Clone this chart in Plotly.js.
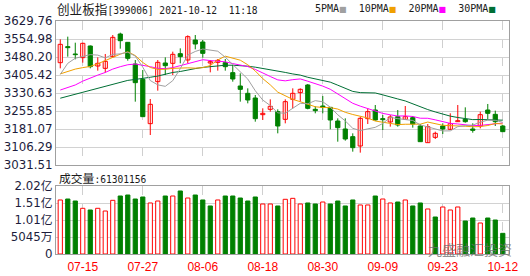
<!DOCTYPE html>
<html>
<head>
<meta charset="utf-8">
<script src="https://cdn.plot.ly/plotly-3.0.1.min.js"></script>
<style>html,body{margin:0;padding:0;background:#fff;}#chart{width:530px;height:276px;}</style>
</head>
<body>
<div id="chart"></div>
<script>
// ---- data ----
const dates = ['07-12','07-13','07-14','07-15','07-16','07-19','07-20','07-21','07-22','07-23',
  '07-26','07-27','07-28','07-29','07-30','08-02','08-03','08-04','08-05','08-06',
  '08-09','08-10','08-11','08-12','08-13','08-16','08-17','08-18','08-19','08-20',
  '08-23','08-24','08-25','08-26','08-27','08-30','08-31','09-01','09-02','09-03',
  '09-06','09-07','09-08','09-09','09-10','09-13','09-14','09-15','09-16','09-17',
  '09-22','09-23','09-24','09-27','09-28','09-29','09-30','10-08','10-11','10-12'];
const tickDates = ['07-15','07-27','08-06','08-18','08-30','09-09','09-23','10-12'];

const open = [3456.6,3523.1,3492.7,3477.4,3525.9,3442.8,3433.1,3481.6,3575.7,3541.1,
  3451.1,3387.4,3203.2,3377.7,3455.3,3453.9,3494.0,3467.7,3550.8,3542.5,
  3455.3,3458.0,3456.6,3415.1,3359.7,3329.3,3309.9,3240.6,3262.8,3253.1,
  3221.2,3304.3,3332.1,3363.9,3262.8,3276.6,3271.1,3214.3,3181.1,3149.2,
  3110.4,3224.0,3260.0,3224.0,3210.2,3232.3,3221.2,3228.2,3193.5,3124.3,
  3146.4,3193.5,3179.7,3211.5,3221.2,3181.1,3193.5,3260.0,3242.0,3193.5];
const high = [3553.6,3564.7,3539.7,3539.7,3528.0,3478.8,3492.7,3571.6,3581.3,3541.1,
  3467.7,3426.2,3305.7,3467.7,3478.8,3502.4,3516.2,3570.2,3571.6,3550.8,
  3467.7,3471.9,3471.9,3447.0,3412.3,3350.0,3322.3,3267.0,3304.3,3262.8,
  3304.4,3350.0,3350.0,3368.0,3275.3,3318.2,3271.1,3225.4,3225.4,3163.1,
  3232.3,3267.0,3280.8,3239.3,3239.3,3260.0,3276.6,3235.1,3201.8,3201.8,
  3170.0,3204.6,3246.2,3280.8,3271.1,3204.6,3253.1,3285.0,3257.3,3197.7];
const low = [3433.1,3481.6,3470.5,3456.6,3433.1,3423.4,3415.1,3478.8,3514.8,3465.0,
  3294.6,3232.3,3156.1,3340.3,3405.4,3405.4,3453.9,3453.9,3512.0,3477.4,
  3416.5,3423.4,3423.4,3377.7,3294.6,3287.7,3211.5,3218.5,3253.1,3163.1,
  3204.6,3267.0,3294.6,3262.8,3246.2,3246.2,3179.7,3128.4,3132.6,3086.9,
  3082.8,3201.8,3215.7,3176.9,3190.8,3190.8,3218.5,3186.6,3128.4,3124.3,
  3139.5,3160.3,3176.9,3211.5,3207.4,3165.8,3183.8,3222.6,3193.5,3170.0];
const close = [3532.8,3519.0,3489.9,3537.0,3440.0,3453.9,3462.2,3561.9,3548.0,3474.7,
  3373.6,3232.3,3283.6,3458.0,3444.2,3491.3,3481.6,3564.7,3534.2,3495.4,
  3460.8,3466.3,3440.0,3388.8,3345.9,3301.6,3224.0,3246.2,3275.3,3193.5,
  3294.6,3329.3,3345.9,3267.0,3257.3,3271.1,3218.5,3186.6,3139.5,3103.5,
  3225.4,3253.1,3218.5,3219.9,3231.0,3197.7,3232.3,3201.8,3128.4,3190.8,
  3163.1,3181.1,3203.2,3215.7,3211.5,3175.5,3240.6,3246.2,3211.5,3170.0];

const ma5 = [3408,3454,3475,3481,3490,3488.0,3476.6,3491.0,3493.2,3500.1,
  3484.1,3438.1,3382.4,3364.4,3358.3,3381.9,3431.7,3488.0,3503.2,3513.4,
  3507.3,3504.3,3479.3,3450.3,3420.4,3388.5,3340.1,3301.3,3278.6,3248.1,
  3246.7,3267.8,3287.7,3286.1,3298.8,3294.1,3272.0,3240.1,3214.6,3183.8,
  3174.7,3181.6,3188.0,3204.1,3229.6,3224.0,3219.9,3216.5,3198.2,3190.2,
  3183.3,3173.0,3173.3,3190.8,3194.9,3197.4,3209.3,3217.9,3217.1,3208.8];
const ma10 = [3410,3420,3430,3436,3441,3452,3466,3480,3492,3501.9,
  3486.1,3457.4,3436.7,3428.8,3429.2,3433.0,3434.9,3435.2,3433.8,3435.9,
  3444.6,3468.0,3483.7,3476.8,3466.9,3447.9,3422.2,3390.3,3364.5,3334.3,
  3317.6,3304.0,3294.5,3282.4,3273.5,3270.4,3269.9,3263.9,3250.4,3241.3,
  3234.4,3226.8,3214.1,3209.4,3206.7,3199.4,3200.8,3202.3,3201.2,3209.9,
  3203.7,3196.5,3194.9,3194.5,3192.6,3190.4,3191.2,3195.6,3204.0,3201.9];
const ma20 = [3343,3353,3364,3380,3394,3405,3416,3430,3440,3448,
  3451,3447,3440,3433,3432,3436,3444,3454,3462,3468.9,
  3465.4,3462.7,3460.2,3452.8,3448.1,3440.5,3428.6,3412.8,3399.2,3385.1,
  3381.1,3386.0,3389.1,3379.6,3370.2,3359.2,3346.1,3327.1,3307.5,3287.8,
  3276.0,3265.4,3254.3,3245.9,3240.1,3234.9,3235.4,3233.1,3225.8,3225.6,
  3219.1,3211.7,3204.5,3202.0,3199.7,3194.9,3196.0,3199.0,3202.6,3205.9];
const ma30 = [3309,3317,3326,3334,3343,3351,3360,3368,3376,3383,
  3387,3390,3396,3401,3409,3416,3420,3427,3432,3437,
  3440,3444,3446,3446,3445,3442,3438,3433,3428,3424.0,
  3416.1,3409.8,3405.0,3396.0,3389.9,3383.8,3375.7,3363.1,3349.6,3337.2,
  3332.2,3332.9,3330.8,3322.9,3315.7,3305.9,3297.6,3285.5,3272.0,3261.8,
  3251.9,3242.4,3234.5,3228.8,3224.3,3220.1,3220.6,3220.6,3218.5,3217.7];

// volume in 万 (10^4 shares)
const volume = [16030,16320,15730,13560,13060,13560,12760,15930,17210,17510,
  16320,16920,15140,15730,17210,17210,18700,16620,17510,16030,
  14250,16030,17210,17210,16620,15730,16920,14840,14840,14250,
  16230,16520,14840,15140,14840,15430,14840,15730,14250,16030,
  14550,14550,17210,16320,15140,15430,16030,14250,15140,13360,
  10980,13950,13060,13950,9790,10680,9200,10680,10090,6130];
// volume bar colour: 1 = red (up), -1 = green (down)
const volDir = [1,-1,-1,1,-1,1,1,1,-1,-1,
  -1,-1,1,1,-1,1,-1,1,-1,-1,
  -1,1,-1,-1,-1,-1,-1,1,1,-1,
  1,1,1,-1,-1,1,-1,-1,-1,-1,
  1,1,-1,1,1,-1,1,-1,-1,1,
  -1,1,1,1,-1,-1,1,-1,-1,-1];

const priceTicks = [3031.51,3106.29,3181.07,3255.85,3330.63,3405.42,3480.20,3554.98,3629.76];
const priceTickText = ['3031.51','3106.29','3181.07','3255.85','3330.63','3405.42','3480.20','3554.98','3629.76'];
const volTicks = [0,5045,10090,15135,20180];
const volTickText = ['0','5045万','1.01亿','1.51亿','2.02亿'];
const lastVolume = '61301156';
const titleName = '创业板指';
const titleRest = '[399006] 2021-10-12  11:18';
const volLabel = '成交量';
const maNames = ['5PMA','10PMA','20PMA','30PMA'];

// ---- styling ----
const RED = '#ff0000', GREEN = '#008000';
const maColors = ['#a0a0a0','#f0a000','#ff00ff','#006f35'];
const L = 56, R = 509, T = 21, B = 254;
const px = x => (x - L) / (R - L);
const py = y => (B - y) / (B - T);
const BW = 0.56;
const MONO = "font-family:DejaVu Sans Mono;font-size:9.6px";

const upWx=[],upWy=[],dnWx=[],dnWy=[];
const upBx=[],upBb=[],upBh=[],dnBx=[],dnBb=[],dnBh=[];
for (let i=0;i<dates.length;i++){
  const up = close[i] >= open[i];
  const lo = Math.min(open[i],close[i]), h = Math.max(Math.abs(close[i]-open[i]),0.3);
  if (up){ upWx.push(dates[i],dates[i],null); upWy.push(low[i],high[i],null);
    upBx.push(dates[i]); upBb.push(lo); upBh.push(h); }
  else { dnWx.push(dates[i],dates[i],null); dnWy.push(low[i],high[i],null);
    dnBx.push(dates[i]); dnBb.push(lo); dnBh.push(h); }
}
const vUx=[],vUy=[],vDx=[],vDy=[];
for (let i=0;i<dates.length;i++){
  if (volDir[i]>0){vUx.push(dates[i]);vUy.push(volume[i]);} else {vDx.push(dates[i]);vDy.push(volume[i]);}
}

const traces = [
  {type:'scatter',mode:'lines',x:upWx,y:upWy,line:{color:RED,width:1},xaxis:'x',yaxis:'y',hoverinfo:'skip',connectgaps:false},
  {type:'scatter',mode:'lines',x:dnWx,y:dnWy,line:{color:GREEN,width:1},xaxis:'x',yaxis:'y',hoverinfo:'skip',connectgaps:false},
  {type:'bar',x:upBx,y:upBh,base:upBb,width:BW,marker:{color:'#ffffff',line:{color:RED,width:1}},xaxis:'x',yaxis:'y'},
  {type:'bar',x:dnBx,y:dnBh,base:dnBb,width:BW,marker:{color:GREEN,line:{color:GREEN,width:1}},xaxis:'x',yaxis:'y'},
];
[ma30,ma20,ma10,ma5].forEach((m,k)=>{
  traces.push({type:'scatter',mode:'lines',x:dates,y:m,line:{color:maColors[3-k],width:1},xaxis:'x',yaxis:'y',hoverinfo:'skip'});
});
traces.push({type:'bar',x:vUx,y:vUy,width:BW,marker:{color:'#ffffff',line:{color:RED,width:1}},xaxis:'x2',yaxis:'y2'});
traces.push({type:'bar',x:vDx,y:vDy,width:BW,marker:{color:GREEN,line:{color:GREEN,width:1}},xaxis:'x2',yaxis:'y2'});

const gridX = {type:'category',categoryorder:'array',categoryarray:dates,range:[-0.57,59.83],
  tickvals:tickDates,ticktext:tickDates,showgrid:true,gridcolor:'#cfcfcf',griddash:'dash',gridwidth:1,
  showline:true,mirror:true,linecolor:'#a0a0a0',linewidth:1,ticks:'',zeroline:false,fixedrange:true};
const tickFont = {family:'DejaVu Sans, Noto Sans CJK SC, sans-serif',size:11.8,color:'#1c1c3c'};

const legendText = maNames.map((n,k)=>n+"<span style='color:"+maColors[k]+";font-family:DejaVu Sans;font-size:8px'>■</span>").join('  ');

const layout = {
  width:530,height:276,margin:{l:L,r:530-R,t:T,b:276-B,pad:0},
  paper_bgcolor:'#ffffff',plot_bgcolor:'#ffffff',showlegend:false,barmode:'overlay',
  xaxis:Object.assign({},gridX,{anchor:'y',showticklabels:false}),
  xaxis2:Object.assign({},gridX,{anchor:'y2',showticklabels:true,
    tickfont:{family:'Liberation Sans, Arial, sans-serif',size:12,color:RED},ticklabelstandoff:2}),
  yaxis:{domain:[py(165),1],range:[3031.51,3629.76],tickvals:priceTicks,ticktext:priceTickText,
    showgrid:true,gridcolor:'#d2d2d2',gridwidth:1,showline:true,mirror:true,linecolor:'#a0a0a0',
    ticks:'',zeroline:false,tickfont:tickFont,ticklabelstandoff:0,fixedrange:true},
  yaxis2:{domain:[0,py(186)],range:[0,20180],tickvals:volTicks,ticktext:volTickText,
    showgrid:true,gridcolor:'#d2d2d2',gridwidth:1,showline:true,mirror:true,linecolor:'#a0a0a0',
    ticks:'',zeroline:false,tickfont:tickFont,ticklabelstandoff:0,fixedrange:true},
  annotations:[
    {xref:'paper',yref:'paper',x:px(55),y:py(8.5),xanchor:'left',yanchor:'middle',showarrow:false,
     text:titleName+"<span style='"+MONO+"'>"+titleRest+"</span>",
     font:{family:'Noto Sans CJK SC, sans-serif',size:12.6,color:'#1a1a1a'}},
    {xref:'paper',yref:'paper',x:px(498),y:py(8.5),xanchor:'right',yanchor:'middle',showarrow:false,
     text:legendText,font:{family:'DejaVu Sans Mono, monospace',size:10,color:'#1a1a1a'}},
    {xref:'paper',yref:'paper',x:px(57),y:py(177),xanchor:'left',yanchor:'middle',showarrow:false,
     text:volLabel+"<span style='"+MONO+"'>:"+lastVolume+"</span>",
     font:{family:'Noto Sans CJK SC, sans-serif',size:11.8,color:'#1a1a1a'}},
    {xref:'paper',yref:'paper',x:px(514),y:py(249),xanchor:'right',yanchor:'middle',showarrow:false,
     text:'九盛融汇投资',font:{family:'Noto Sans CJK SC, sans-serif',size:14,color:'rgba(110,110,110,0.75)'}}
  ]
};
Plotly.newPlot('chart',traces,layout,{staticPlot:true,displayModeBar:false});
</script>
</body>
</html>
